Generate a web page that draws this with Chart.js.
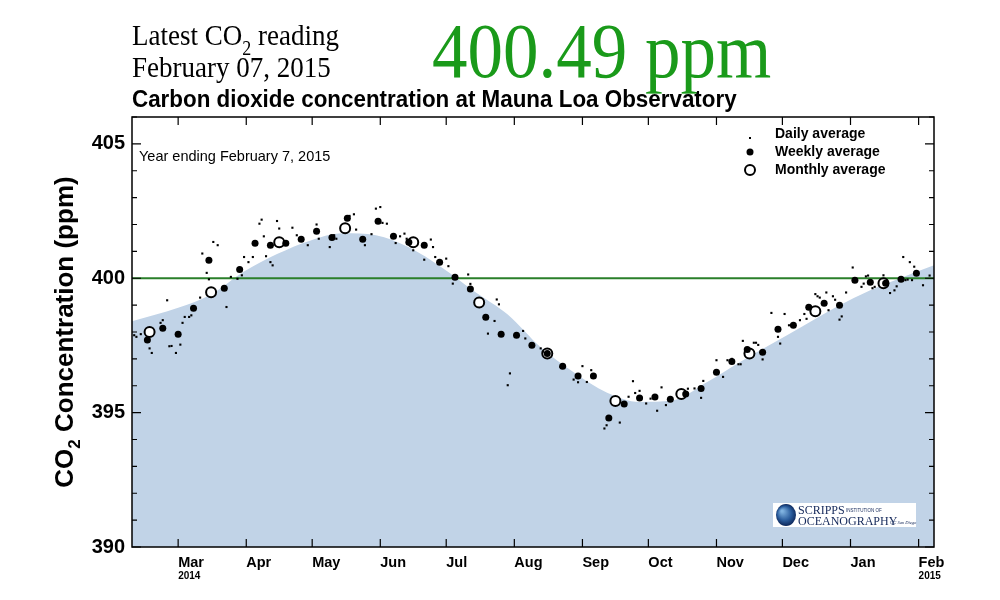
<!DOCTYPE html>
<html>
<head>
<meta charset="utf-8">
<script src="https://cdn.jsdelivr.net/npm/chart.js@4.4.1/dist/chart.umd.min.js"></script>
<style>
  html, body { margin: 0; padding: 0; background: #fff; }
  #wrap { position: relative; width: 1000px; height: 600px; }
  .hdr { position: absolute; white-space: nowrap; line-height: 1; }
  .serif { font-family: "Liberation Serif", "Times New Roman", serif; color: #000; }
  .sub { position: relative; top: 9px; font-size: 18px; }
</style>
</head>
<body>
<div id="wrap">
  <canvas id="co2Chart"></canvas>
  <div class="hdr serif" style="left:132px; top:23px; font-size:27px; transform:scaleY(1.12); transform-origin:0 22.6px;">Latest CO<span class="sub">2</span> reading</div>
  <div class="hdr serif" style="left:132px; top:55px; font-size:27px; transform:scaleY(1.12); transform-origin:0 22.6px;">February 07, 2015</div>
  <div class="hdr serif" style="left:432px; top:18px; font-size:71px; color:#1a9a1a; transform:scaleY(1.1); transform-origin:0 59.5px;">400.49 ppm</div>
  <div class="hdr" style="left:132px; top:89px; font-family:'Liberation Sans', Arial, sans-serif; font-weight:bold; font-size:22.4px; transform:scaleY(1.1); transform-origin:0 19px;">Carbon dioxide concentration at Mauna Loa Observatory</div>
</div>
<script>
// x values are days counted from 1 March 2014
const months = ["Mar", "Apr", "May", "Jun", "Jul", "Aug", "Sep", "Oct", "Nov", "Dec", "Jan", "Feb"];
const monthDays = [0, 31, 61, 92, 122, 153, 184, 214, 245, 275, 306, 337];
const yearLabels = ["2014", "2015"];
const yearDays = [0, 337];
const xMin = -21, xMax = 344;
const yMin = 390, yMax = 406;
const refLevel = 400;

// smooth seasonal curve (blue area)
const curveDays = [-21, 0, 15, 30, 45, 60, 75, 90, 105, 120, 135, 150, 165, 180, 195, 210, 225, 240, 255, 270, 285, 300, 315, 330, 344];
const curvePpm = [398.40, 398.90, 399.40, 400.25, 400.90, 401.40, 401.67, 401.60, 401.15, 400.40, 399.50, 398.65, 397.43, 396.50, 395.75, 395.40, 395.45, 396.10, 396.85, 397.55, 398.25, 398.95, 399.55, 400.05, 400.48];

// monthly averages
const monthlyDays = [-13, 15, 46, 76, 107, 137, 168, 199, 229, 260, 290, 321];
const monthlyPpm = [398.00, 399.48, 401.34, 401.86, 401.34, 399.10, 397.20, 395.43, 395.69, 397.20, 398.77, 399.81];

// weekly averages
const weeklyDays = [-14, -7, 0, 7, 14, 21, 28, 35, 42, 49, 56, 63, 70, 77, 84, 91, 98, 105, 112, 119, 126, 133, 140, 147, 154, 161, 168, 175, 182, 189, 196, 203, 210, 217, 224, 231, 238, 245, 252, 259, 266, 273, 280, 287, 294, 301, 308, 315, 322, 329, 336];
const weeklyPpm = [397.70, 398.14, 397.92, 398.88, 400.67, 399.63, 400.33, 401.30, 401.23, 401.30, 401.45, 401.75, 401.52, 402.23, 401.45, 402.12, 401.56, 401.34, 401.23, 400.60, 400.04, 399.60, 398.55, 397.92, 397.88, 397.51, 397.20, 396.73, 396.36, 396.36, 394.80, 395.32, 395.54, 395.58, 395.50, 395.69, 395.90, 396.50, 396.90, 397.35, 397.25, 398.10, 398.25, 398.92, 399.07, 399.00, 399.93, 399.85, 399.81, 399.96, 400.19];

// daily averages
const dailyDays = [-20, -19, -17, -13, -12, -8, -7, -5, -4, -3, -1, 1, 2, 3, 5, 6, 10, 11, 13, 14, 16, 18, 22, 24, 27, 29, 30, 32, 34, 37, 38, 39, 40, 42, 43, 45, 46, 52, 54, 56, 59, 63, 64, 69, 71, 72, 78, 80, 81, 84, 85, 88, 90, 92, 93, 95, 99, 101, 103,
  104, 107, 112, 115, 116, 117, 122, 123, 125, 132, 133, 141, 144, 145, 146, 150, 151, 157, 158, 165, 166, 174, 180, 182, 184, 186, 188, 194, 195, 201, 205, 207, 208, 210, 213, 215, 218, 220, 222,
  232, 235, 238, 239, 245, 248, 250, 252, 255, 256, 257, 262, 263, 264, 266, 270, 273, 274, 276, 278, 283, 285, 286, 290, 291, 292, 295, 296, 298, 299, 301, 302, 304, 307, 311, 312, 313, 314, 316, 317, 321, 324, 326, 327, 330, 331, 332, 333, 334, 335, 336, 339, 342];
const dailyPpm = [397.88, 397.82, 397.92, 397.39, 397.22, 398.34, 398.44, 399.18, 397.47, 397.48, 397.22, 397.53, 398.34, 398.56, 398.56, 398.62, 399.28, 400.92, 400.20, 399.96, 401.35, 401.23, 398.93, 400.05, 399.98, 400.11, 400.79, 400.60, 400.79, 402.03, 402.18, 401.56, 400.82, 400.60, 400.48, 402.13, 401.85, 401.88, 401.60, 401.41, 401.23, 402.00, 401.47, 401.16, 401.60, 401.47, 402.32, 402.38, 401.81, 401.47, 401.23, 401.64, 402.59, 402.65, 402.06, 402.03, 401.31, 401.56, 401.66,
  401.47, 401.04, 400.69, 401.44, 401.16, 400.79, 400.73, 400.45, 399.80, 400.14, 399.79, 397.94, 398.41, 399.21, 399.03, 396.02, 396.46, 398.04, 397.76, 397.39, 397.27, 396.70, 396.23, 396.13, 396.73, 396.14, 396.58, 394.41, 394.53, 394.63, 395.59, 396.17, 395.73, 395.81, 395.34, 395.52, 395.07, 395.94, 395.28,
  395.89, 395.90, 395.55, 396.18, 396.95, 396.33, 396.95, 397.00, 396.80, 396.80, 397.67, 397.60, 397.60, 397.52, 396.98, 398.71, 397.82, 397.57, 398.67, 398.25, 398.44, 398.67, 398.49, 399.41, 399.33, 399.28, 399.47, 398.81, 399.33, 399.20, 398.46, 398.58, 399.47, 400.40, 399.68, 399.80, 400.07, 400.10, 399.63, 399.68, 400.11, 399.45, 399.55, 399.70, 400.79, 399.93, 399.95, 400.60, 399.93, 400.43, 400.16, 399.74, 400.10];

const sans = "'Liberation Sans', Arial, sans-serif";
const serif = "'Liberation Serif', 'Times New Roman', serif";

function pairs(xs, ys) {
    return xs.map((d, i) => ({ x: d, y: ys[i] }));
}

// borders, inward ticks, year labels, axis title, legend and logo
const decor = {
    id: "decor",
    afterDraw(chart) {
        const { ctx, chartArea: a, scales } = chart;
        const x = scales.x, y = scales.y;
        ctx.save();

        ctx.strokeStyle = "#000";
        ctx.lineWidth = 1.2;
        ctx.beginPath();
        for (let v = yMin; v <= yMax; v++) {
            const py = y.getPixelForValue(v);
            const len = v % 5 === 0 ? 9 : 5;
            ctx.moveTo(a.left, py); ctx.lineTo(a.left + len, py);
            ctx.moveTo(a.right, py); ctx.lineTo(a.right - len, py);
        }
        monthDays.forEach(d => {
            const px = x.getPixelForValue(d);
            ctx.moveTo(px, a.bottom); ctx.lineTo(px, a.bottom - 8);
            ctx.moveTo(px, a.top); ctx.lineTo(px, a.top + 8);
        });
        ctx.stroke();
        ctx.lineWidth = 1.5;
        ctx.strokeRect(a.left, a.top, a.right - a.left, a.bottom - a.top);

        // years under first and last month
        ctx.fillStyle = "#000";
        ctx.font = "bold 10px " + sans;
        ctx.textAlign = "left";
        ctx.textBaseline = "alphabetic";
        yearDays.forEach((d, i) => ctx.fillText(yearLabels[i], x.getPixelForValue(d), 579));

        // y axis title with subscript
        ctx.save();
        ctx.translate(66, (a.top + a.bottom) / 2);
        ctx.rotate(-Math.PI / 2);
        ctx.textBaseline = "middle";
        const big = "bold 26px " + sans, small = "bold 17px " + sans;
        ctx.font = big; const w1 = ctx.measureText("CO").width;
        const w3 = ctx.measureText(" Concentration (ppm)").width;
        ctx.font = small; const w2 = ctx.measureText("2").width;
        let sx = -(w1 + w2 + w3) / 2;
        ctx.font = big; ctx.fillText("CO", sx, 0); sx += w1;
        ctx.font = small; ctx.fillText("2", sx, 9); sx += w2;
        ctx.font = big; ctx.fillText(" Concentration (ppm)", sx, 0);
        ctx.restore();

        // note in top-left corner
        ctx.font = "14.5px " + sans;
        ctx.textBaseline = "middle";
        ctx.fillText("Year ending February 7, 2015", a.left + 7, 157);

        // legend
        ctx.font = "bold 14px " + sans;
        ctx.fillText("Daily average", 775, 134);
        ctx.fillText("Weekly average", 775, 152);
        ctx.fillText("Monthly average", 775, 170);
        ctx.fillRect(749, 137, 2, 2);
        ctx.beginPath(); ctx.arc(750, 152, 3.5, 0, Math.PI * 2); ctx.fill();
        ctx.beginPath(); ctx.arc(750, 170, 5, 0, Math.PI * 2);
        ctx.fillStyle = "#fff"; ctx.fill();
        ctx.lineWidth = 2; ctx.stroke();

        // Scripps logo
        ctx.fillStyle = "#fff";
        ctx.fillRect(773, 503, 143, 24);
        const g = ctx.createRadialGradient(782, 511, 1, 786, 515, 11);
        g.addColorStop(0, "#7fb2e0");
        g.addColorStop(0.6, "#2a5c9c");
        g.addColorStop(1, "#0b2457");
        ctx.fillStyle = g;
        ctx.beginPath(); ctx.ellipse(786, 515, 10, 11, 0, 0, Math.PI * 2); ctx.fill();
        ctx.fillStyle = "#14285a";
        ctx.textBaseline = "alphabetic";
        ctx.font = "12px " + serif;
        ctx.fillText("SCRIPPS", 798, 514);
        ctx.fillText("OCEANOGRAPHY", 798, 525);
        ctx.font = "4.5px " + sans;
        ctx.fillText("INSTITUTION OF", 846, 512);
        ctx.font = "italic 4.5px " + serif;
        ctx.fillText("UC San Diego", 890, 524);

        ctx.restore();
    }
};

new Chart(document.getElementById("co2Chart"), {
    type: "scatter",
    data: {
        datasets: [
            {
                label: "Weekly average",
                data: pairs(weeklyDays, weeklyPpm),
                pointRadius: 3.5,
                pointBackgroundColor: "#000",
                pointBorderWidth: 0,
                order: 1,
            },
            {
                label: "Daily average",
                data: pairs(dailyDays, dailyPpm),
                pointStyle: "rect",
                pointRadius: 1.5,
                pointBackgroundColor: "#000",
                pointBorderWidth: 0,
                order: 2,
            },
            {
                label: "Monthly average",
                data: pairs(monthlyDays, monthlyPpm),
                pointRadius: 5,
                pointBackgroundColor: "#fff",
                pointBorderColor: "#000",
                pointBorderWidth: 2,
                order: 3,
            },
            {
                type: "line",
                label: "400 ppm",
                data: pairs([xMin, xMax], [refLevel, refLevel]),
                borderColor: "#2a7f2a",
                borderWidth: 2,
                pointRadius: 0,
                order: 4,
            },
            {
                type: "line",
                label: "Seasonal curve",
                data: pairs(curveDays, curvePpm),
                fill: "start",
                backgroundColor: "#c1d3e7",
                borderWidth: 0,
                pointRadius: 0,
                cubicInterpolationMode: "monotone",
                order: 5,
            },
        ],
    },
    options: {
        responsive: true,
        maintainAspectRatio: false,
        animation: false,
        events: [],
        layout: { padding: { top: 117, right: 66, left: 0, bottom: 0 } },
        plugins: { legend: { display: false }, tooltip: { enabled: false } },
        scales: {
            x: {
                type: "linear",
                min: xMin,
                max: xMax,
                afterBuildTicks: (s) => { s.ticks = monthDays.map(v => ({ value: v })); },
                afterFit: (s) => { s.height = 53; s.paddingLeft = 0; s.paddingRight = 0; },
                ticks: {
                    autoSkip: false,
                    maxRotation: 0,
                    minRotation: 0,
                    align: "start",
                    padding: 7,
                    color: "#000",
                    font: { family: sans, weight: "bold", size: 14.5 },
                    callback: (v) => months[monthDays.indexOf(v)],
                },
                grid: { display: false, drawTicks: false, tickLength: 0 },
                border: { display: false },
            },
            y: {
                min: yMin,
                max: yMax,
                afterFit: (s) => { s.width = 132; s.paddingTop = 0; s.paddingBottom = 0; },
                ticks: {
                    stepSize: 1,
                    autoSkip: false,
                    padding: 7,
                    color: "#000",
                    font: { family: sans, weight: "bold", size: 20 },
                    callback: (v) => (v % 5 === 0 ? String(v) : ""),
                },
                grid: { display: false, drawTicks: false, tickLength: 0 },
                border: { display: false },
            },
        },
    },
    plugins: [decor],
});
</script>
</body>
</html>
